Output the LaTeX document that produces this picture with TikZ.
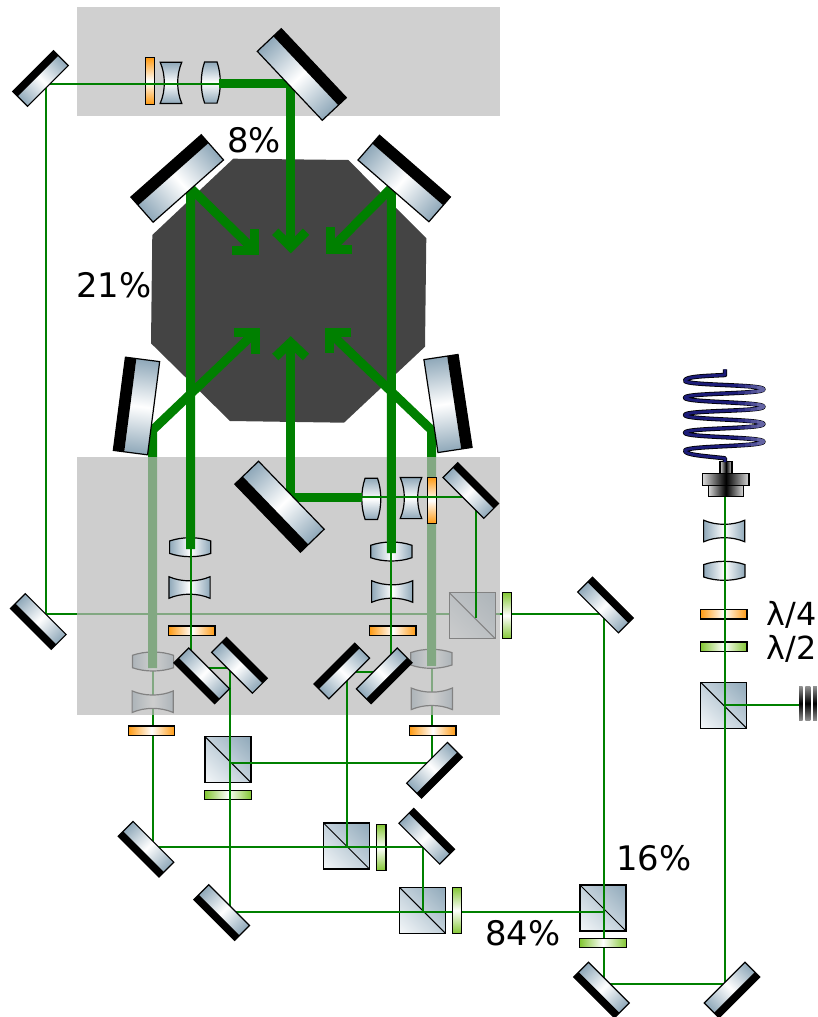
\documentclass[tikz,border=0pt]{standalone}
\usepackage{fontspec}
\setmainfont{DejaVu Sans}
\usetikzlibrary{calc,shadings}
\definecolor{steel}{HTML}{8FA8B9}
\definecolor{steelmid}{HTML}{C3D1DB}
\definecolor{steellight}{HTML}{F4F7F9}
\definecolor{beamgreen}{HTML}{008000}
\definecolor{platog}{HTML}{FF9A12}
\definecolor{platgr}{HTML}{82C632}
\definecolor{darkoct}{HTML}{444444}
\definecolor{boxgrey}{HTML}{D0D0D0}
\definecolor{fibre}{HTML}{1C1C78}
\tikzset{
  thinbeam/.style={draw=beamgreen,line width=2pt,line cap=butt,line join=miter},
  thickbeam/.style={draw=beamgreen,line width=9pt,line cap=butt,line join=miter,miter limit=10},
  optline/.style={draw=black,line width=1.2pt,line join=miter},
  steelshade/.style={left color=steel,right color=steel,middle color=white},
  colshade/.style={left color=black!15,right color=black!15,middle color=black},
  pctlabel/.style={font=\fontsize{33.8}{35}\selectfont,inner sep=0pt,anchor=base west,text=black},
  wavelabel/.style={font=\fontsize{31.8}{33}\selectfont,inner sep=0pt,anchor=base west,text=black},
}
% mirror: name, rotation, length, total thickness, black band
\newcommand\optMirror[5]{%
  \begin{scope}[transform canvas={shift={(#1)},rotate=#2}]
    \shade[steelshade] (-#3/2,-#4/2+#5) rectangle (#3/2,#4/2);
    \fill[black] (-#3/2,-#4/2) rectangle (#3/2,-#4/2+#5);
    \draw[optline] (-#3/2,-#4/2) rectangle (#3/2,#4/2);
  \end{scope}}
\newcommand\optPlate[3]{%
  \begin{scope}[transform canvas={shift={(#1)},rotate=#2}]
    \shadedraw[optline,left color=#3,right color=#3,middle color=white] (-23.2,-4.6) rectangle (23.2,4.6);
  \end{scope}}
\newcommand\optConvex[2]{%
  \begin{scope}[transform canvas={shift={(#1)},rotate=#2}]
    \shadedraw[optline,steelshade] (-20.6,-6.2) .. controls (-8,-10.6) and (8,-10.6) .. (20.6,-6.2)
      -- (20.6,6.2) .. controls (8,10.6) and (-8,10.6) .. (-20.6,6.2) -- cycle;
  \end{scope}}
\newcommand\optConcave[2]{%
  \begin{scope}[transform canvas={shift={(#1)},rotate=#2}]
    \shadedraw[optline,steelshade] (-20.6,-10.8) .. controls (-8,-5.3) and (8,-5.3) .. (20.6,-10.8)
      -- (20.6,10.8) .. controls (8,5.3) and (-8,5.3) .. (-20.6,10.8) -- cycle;
  \end{scope}}
\newcommand\optCube[1]{%
  \begin{scope}[shift={(#1)}]
    \shade[upper right=steel,upper left=steelmid,lower right=steelmid,lower left=steellight] (-23,-23) rectangle (23,23);
    \draw[optline] (-23,-23) rectangle (23,23);
    \draw[draw=black,line width=1pt] (-23,-23) -- (23,23);
  \end{scope}}
\begin{document}
\begin{tikzpicture}[x=1pt,y=-1pt]
\useasboundingbox (0,0) rectangle (817,1017);
\fill[white] (0,0) rectangle (817,1017);
% ---------- named positions: elements
\coordinate (mTL) at (40.5,78.5);
\coordinate (mTop) at (301.8,74.5);
\coordinate (mUL) at (177.2,178.5);
\coordinate (mUR) at (404.2,178.5);
\coordinate (mLL) at (136.5,406);
\coordinate (mLR) at (448,403.5);
\coordinate (mBot) at (279.5,506.7);
\coordinate (mA) at (201.7,675.8);
\coordinate (mB) at (239.5,665.3);
\coordinate (mC) at (341.8,671);
\coordinate (mD) at (384.2,675.8);
\coordinate (mE) at (470.8,490.5);
\coordinate (mF) at (605.5,605);
\coordinate (mG) at (38.3,621.5);
\coordinate (mH) at (146,849.2);
\coordinate (mI) at (221.7,912.5);
\coordinate (mJ) at (426.7,836.2);
\coordinate (mK) at (434.5,770.2);
\coordinate (mM) at (601.5,990);
\coordinate (mN) at (732,990);
% beam points
\coordinate (a1) at (45.7,83.5);
\coordinate (a2) at (219,83.5);
\coordinate (a3) at (290.7,83.5);
\coordinate (a4) at (45.7,614);
\coordinate (a5) at (604.3,614);
\coordinate (a6) at (604.3,984);
\coordinate (a7) at (725,984);
\coordinate (a8) at (725,497);
\coordinate (a9) at (725,704.5);
\coordinate (a10) at (800,704.5);
\coordinate (b1) at (152.7,430);
\coordinate (b2) at (152.7,668);
\coordinate (b3) at (152.7,847.3);
\coordinate (b4) at (423.3,847.3);
\coordinate (b5) at (423.3,911.7);
\coordinate (c1) at (431.5,430);
\coordinate (c2) at (431.5,666);
\coordinate (c3) at (431.5,762.7);
\coordinate (c4) at (230.3,762.7);
\coordinate (d1) at (190.5,188);
\coordinate (d2) at (190.5,549);
\coordinate (d3) at (190.5,668.3);
\coordinate (d4) at (230.3,668.3);
\coordinate (d5) at (230.3,911.7);
\coordinate (e1) at (391.3,188);
\coordinate (e2) at (391.3,553);
\coordinate (e3) at (391.3,672.3);
\coordinate (e4) at (346.8,672.3);
\coordinate (e5) at (346.8,847.3);
\coordinate (f1) at (290.7,345);
\coordinate (f2) at (290.7,497.3);
\coordinate (f3) at (362,497.3);
\coordinate (f4) at (475.7,497.3);
\coordinate (f5) at (475.7,618);
% ---------- background
\fill[boxgrey] (77,7) rectangle (500,116);
\fill[darkoct] (233.3,158.7) -- (348.3,160) -- (426.3,238.3) -- (425,346.7) -- (344,422.7) -- (230,421) -- (151,343.3) -- (152.3,235) -- cycle;
% ---------- items under the veil
\draw[thinbeam] (a4) -- (a5);
\draw[thinbeam] (b2) -- (b3);
\draw[thinbeam] (c2) -- (c3);
\optConvex{153,661.5}{0}
\optConcave{152.7,701.7}{0}
\optConvex{431.3,658.8}{0}
\optConcave{431.8,698.8}{0}
\optCube{472.2,615.5}
\draw[thickbeam] (255.2,332.2) -- (b1) -- (b2);
\draw[thickbeam] (329,332) -- (c1) -- (c2);
\fill[black!27,opacity=0.7] (77,457) rectangle (500,715);
% ---------- lenses, plates and cubes
\optPlate{150.2,81}{90}{platog}
\optConcave{171,82.8}{90}
\optConvex{210.8,82.5}{90}
\optConvex{190.2,547.2}{0}
\optConcave{189.5,587.5}{0}
\optPlate{191.7,630.5}{0}{platog}
\optConvex{391.3,551.5}{0}
\optConcave{392.2,591.5}{0}
\optPlate{392.7,630.5}{0}{platog}
\optConvex{371.3,498.8}{90}
\optConcave{411,498}{90}
\optPlate{431.8,500.3}{90}{platog}
\optPlate{151.5,730.5}{0}{platog}
\optPlate{432.7,730.5}{0}{platog}
\optCube{228,759.7}
\optPlate{228,794.7}{0}{platgr}
\optCube{346.5,846}
\optPlate{381.3,847.5}{90}{platgr}
\optCube{422.5,910.3}
\optCube{603,908}
\optConcave{724.2,531}{0}
\optConvex{724.3,570.8}{0}
\optPlate{723.7,614.3}{0}{platog}
\optPlate{723.7,646.5}{0}{platgr}
\optCube{723.7,705.3}
% ---------- thin beams
\draw[thinbeam] (a2) -- (a1) -- (a4);
\draw[thinbeam] (a5) -- (a6) -- (a7) -- (a8);
\draw[thinbeam] (a9) -- (a10);
\draw[thinbeam] (b3) -- (b4) -- (b5);
\draw[thinbeam] (c3) -- (c4);
\draw[thinbeam] (d2) -- (d3) -- (d4) -- (d5);
\draw[thinbeam] (d5) -- (a6 |- d5);
\draw[thinbeam] (e2) -- (e3) -- (e4) -- (e5);
\draw[thinbeam] (f3) -- (f4) -- (f5);
% ---------- thick beams and arrow heads
\draw[thickbeam] (a2) -- (a3) -- (290.7,247);
\draw[thickbeam] (275.3,231.7) -- (290.7,247) -- (306,231.7);
\draw[thickbeam] (d2) -- (d1) -- (254.5,250.5);
\draw[thickbeam] (254.5,229.3) -- (254.5,250.5) -- (232,250.5);
\draw[thickbeam] (e2) -- (e1) -- (330.8,249);
\draw[thickbeam] (330.8,227) -- (330.8,249) -- (352,249);
\draw[thickbeam] (234,332.2) -- (255.2,332.2) -- (255.2,354.3);
\draw[thickbeam] (351,332) -- (329,332) -- (329,353.3);
\draw[thickbeam] (f1) -- (f2) -- (f3);
\draw[thickbeam] (275.3,357) -- (290.7,342.4) -- (306,357);
% ---------- plates that hide the beam
\optPlate{506.7,615.5}{90}{platgr}
\optPlate{457.2,910.3}{90}{platgr}
\optPlate{603,942.8}{0}{platgr}
% ---------- mirrors
\optMirror{mTL}{45}{57.7}{21}{7}
\optMirror{mTop}{-46.7}{94.8}{33}{11}
\optMirror{mUL}{41.5}{94}{33.6}{11}
\optMirror{mUR}{-41}{94}{32.8}{11}
\optMirror{mLL}{82.6}{94}{34.5}{11}
\optMirror{mLR}{-81.4}{94}{34.5}{11}
\optMirror{mBot}{134}{94.5}{33}{11}
\optMirror{mA}{135}{57.7}{21}{7}
\optMirror{mB}{-45}{57.7}{21}{7}
\optMirror{mC}{45}{57.7}{21}{7}
\optMirror{mD}{-135}{57.7}{21}{7}
\optMirror{mE}{-45}{57.7}{21}{7}
\optMirror{mF}{-45}{57.7}{21}{7}
\optMirror{mG}{135}{57.7}{21}{7}
\optMirror{mH}{135}{57.7}{21}{7}
\optMirror{mI}{135}{57.7}{21}{7}
\optMirror{mJ}{-45}{57.7}{21}{7}
\optMirror{mK}{-135}{57.7}{21}{7}
\optMirror{mM}{135}{57.7}{21}{7}
\optMirror{mN}{-135}{57.7}{21}{7}
% ---------- beam dump
\foreach \xa/\xb in {799/802.7,805.3/810.3,813/816.8}{
  \shade[top color=black!45,bottom color=black!45,middle color=black] (\xa,686.7) rectangle (\xb,720);
}
% ---------- fibre collimator
\shadedraw[optline,colshade] (720,461.7) rectangle (732,473.3);
\shadedraw[optline,colshade] (702.7,473.3) rectangle (749,485.3);
\shadedraw[optline,colshade] (708.3,485.3) rectangle (743.3,496.7);
% ---------- fibre coil
\def\coilpath{(725,369.3) -- (725,375) .. controls (705,376) and (685,376.5) .. (685,380.7)
  .. controls (685,385.7) and (763.5,384.3) .. (763.5,389.3)
  .. controls (763.5,394.3) and (685,392.7) .. (685,397.7)
  .. controls (685,402.7) and (763.5,401.7) .. (763.5,406.7)
  .. controls (763.5,411.7) and (685,410) .. (685,415)
  .. controls (685,420) and (763.5,419) .. (763.5,424)
  .. controls (763.5,429) and (685,427.7) .. (685,432.7)
  .. controls (685,437.7) and (763.5,436.7) .. (763.5,441.7)
  .. controls (763.5,446.7) and (685,445.7) .. (685,450.7)
  .. controls (685,455) and (705,456) .. (725,458.3) -- (725,462)}
\draw[draw=black,line width=4.4pt,line join=round] \coilpath;
\draw[draw=fibre,line width=2.8pt,line join=round] \coilpath;
\foreach \xa/\shadecol in {738/8,745/16,751/24,757/32}{
  \begin{scope}
    \clip (\xa,365) rectangle (770,465);
    \draw[draw=fibre!\the\numexpr100-\shadecol\relax!white,line width=2.8pt,line join=round] \coilpath;
  \end{scope}
}
% ---------- labels
\node[pctlabel] (t8) at (227,152) {8\%};
\node[pctlabel] (t21) at (76,297) {21\%};
\node[pctlabel] (t84) at (485,945) {84\%};
\node[pctlabel] (t16) at (616,870) {16\%};
\node[wavelabel] (tq) at (766.5,625.5) {λ/4};
\node[wavelabel] (th) at (766.5,659.5) {λ/2};
\end{tikzpicture}
\end{document}
